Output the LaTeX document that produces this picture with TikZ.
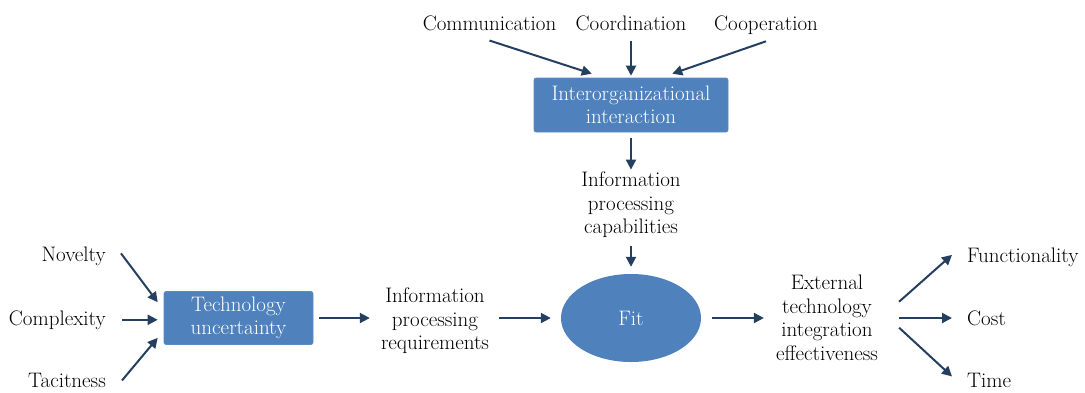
\documentclass[tikz,border=0pt]{standalone}
\usetikzlibrary{arrows.meta,shapes.geometric}
\definecolor{boxblue}{HTML}{4F81BD}
\definecolor{boxedge}{HTML}{5B8CC6}
\definecolor{arrowblue}{HTML}{243F60}
\begin{document}
\begin{tikzpicture}[x=1bp,y=-1bp,
  every node/.style={font=\fontsize{21bp}{23.5bp}\selectfont, inner sep=0pt},
  lbl/.style={anchor=base},
  txt/.style={align=center},
  bluebox/.style={align=center, fill=boxblue, draw=boxedge, line width=0.6bp, rounded corners=2bp, text=white},
  fitell/.style={ellipse, fill=boxblue, text=white, minimum width=140bp, minimum height=88bp},
  arr/.style={draw=arrowblue, line width=2bp, -{Triangle[length=10bp,width=10bp]}}
]
\useasboundingbox[fill=white] (0,0) rectangle (1085,392);

% top inputs
\node[lbl] (comm) at (489.5,30) {Communication};
\node[lbl] (coord) at (631,30) {Coordination};
\node[lbl] (coop) at (766,30) {Cooperation};
\node[bluebox, minimum width=194bp, minimum height=54bp] (inter) at (631,105) {Interorganizational\\interaction};
\node[txt] (cap) at (631,204.7) {Information\\processing\\capabilities};

% left inputs
\node[anchor=base east] (nov) at (106,261.5) {Novelty};
\node[anchor=base east] (cpx) at (106,325) {Complexity};
\node[anchor=base east] (tac) at (106,387.5) {Tacitness};
\node[bluebox, minimum width=149bp, minimum height=53bp] (tech) at (238.5,318) {Technology\\uncertainty};
\node[txt] (req) at (435,320.8) {Information\\processing\\requirements};

% centre and right
\node[fitell] (fit) at (631,318) {Fit};
\node[txt] (ext) at (827,317.7) {External\\technology\\integration\\effectiveness};
\node[anchor=base west] (func) at (967,262) {Functionality};
\node[anchor=base west] (cost) at (967,325) {Cost};
\node[anchor=base west] (time) at (967,387.5) {Time};

% connectors top
\draw[arr] ([yshift=-10bp]comm.south) -- ([xshift=58bp,yshift=4bp]inter.north west);
\draw[arr] ([yshift=-10bp]coord.south) -- ([yshift=2bp]inter.north);
\draw[arr] ([yshift=-7bp]coop.south) -- ([xshift=-56bp,yshift=4bp]inter.north east);
\draw[arr] ([yshift=-6bp]inter.south) -- ([yshift=2bp]cap.north);
\draw[arr] ([yshift=-8bp]cap.south) -- ([yshift=7bp]fit.north);

% connectors left
\draw[arr] ([xshift=15bp,yshift=3bp]nov.east) -- ([xshift=-6bp,yshift=-11bp]tech.north west);
\draw[arr] ([xshift=16bp]cpx.east) -- ([xshift=-6bp]cpx.east -| tech.west);
\draw[arr] ([xshift=16bp]tac.east) -- ([xshift=-6bp,yshift=7bp]tech.south west);
\draw[arr] ([xshift=6bp]tech.east) -- ([xshift=-11bp]tech.east -| req.west);
\draw[arr] ([xshift=10bp]req.east |- fit.west) -- ([xshift=-10bp]fit.west);

% connectors right
\draw[arr] ([xshift=11bp]fit.east) -- ([xshift=-12bp]fit.east -| ext.west);
\draw[arr] ([xshift=21bp,yshift=16bp]ext.east) -- ([xshift=-15bp,yshift=2bp]func.west);
\draw[arr] ([xshift=21bp]ext.east |- fit.east) -- ([xshift=-15bp]ext.east |- fit.east -| cost.west);
\draw[arr] ([xshift=21bp,yshift=-10bp]ext.east) -- ([xshift=-15bp,yshift=4bp]time.west);
\end{tikzpicture}
\end{document}
